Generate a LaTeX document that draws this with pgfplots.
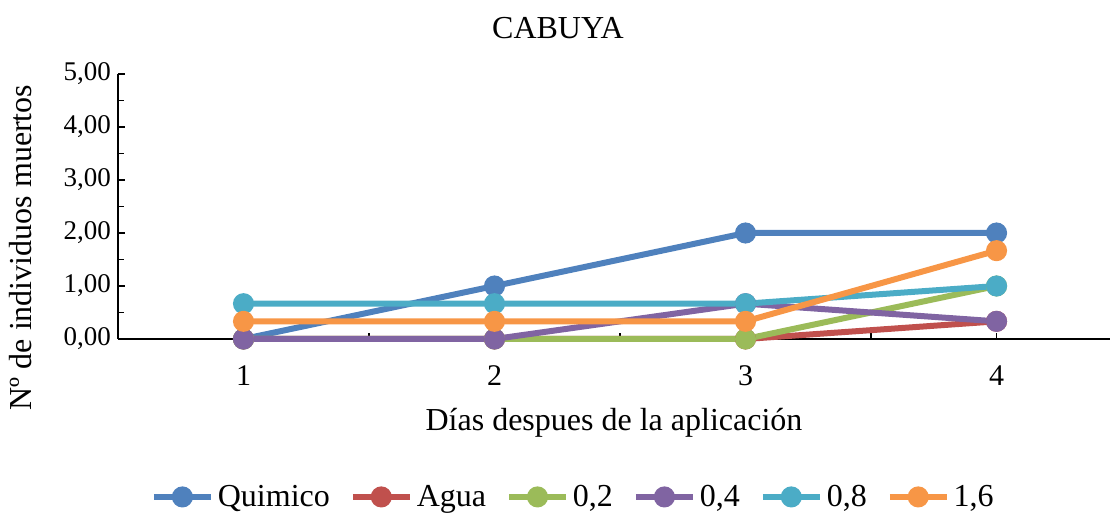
\documentclass[border=0pt]{standalone}
\usepackage{fontspec}
\setmainfont{Liberation Serif}
\usepackage{pgfplots}
\pgfplotsset{compat=1.18}

\definecolor{cQ}{HTML}{4F81BD}
\definecolor{cA}{HTML}{C0504D}
\definecolor{c02}{HTML}{9BBB59}
\definecolor{c04}{HTML}{8064A2}
\definecolor{c08}{HTML}{4BACC6}
\definecolor{c16}{HTML}{F79646}

\begin{document}
\begin{tikzpicture}
\begin{axis}[
  name=ax,
  scale only axis, width=496pt, height=132.5pt,
  xmin=0.5, xmax=4.452, ymin=0, ymax=5,
  axis x line*=bottom, axis y line*=left,
  axis line style={-, line width=0.9pt},
  xtick={1,2,3,4}, xticklabels={1,2,3,4},
  major x tick style={draw=none},
  minor xtick={1.5,2.5,3.5,4},
  ytick={0,1,2,3,4,5}, minor ytick={0.5,1.5,2.5,3.5,4.5},
  tick align=inside,
  major tick length=3.5pt, minor tick length=3pt,
  tick style={black, line width=0.8pt},
  yticklabel={\pgfmathprintnumber[fixed, fixed zerofill, precision=2, use comma, assume math mode=true]{\tick}},
  yticklabel style={font=\fontsize{13.5}{15}\selectfont},
  xticklabel style={font=\fontsize{15}{17}\selectfont, yshift=-10pt},
  xlabel={Días despues de la aplicación},
  ylabel={Nº de individuos muertos},
  label style={font=\fontsize{16}{18}\selectfont},
  xlabel style={yshift=-4pt},
  ylabel style={yshift=9pt, xshift=-20.5pt},
  title={CABUYA},
  title style={at={(0.4435,1)}, anchor=south, yshift=8pt, font=\fontsize{16}{18}\selectfont},
  every axis plot/.append style={line width=3pt, mark=*, mark size=3.75pt, mark options={solid}},
  legend style={at={(0.46,-0.596)}, anchor=center, draw=none, legend columns=-1,
    font=\fontsize{16}{18}\selectfont, /tikz/every even column/.append style={column sep=8pt}},
  legend image code/.code={
    \draw[mark repeat=2, mark phase=2] plot coordinates {(0cm,0cm) (0.5cm,0cm) (1cm,0cm)};},
  clip=false,
]
\addplot[color=cQ] coordinates {(1,0) (2,1) (3,2) (4,2)};
\addlegendentry{Quimico}
\addplot[color=cA] coordinates {(1,0) (2,0) (3,0) (4,0.3333)};
\addlegendentry{Agua}
\addplot[color=c02] coordinates {(1,0) (2,0) (3,0) (4,1)};
\addlegendentry{0,2}
\addplot[color=c04] coordinates {(1,0) (2,0) (3,0.6667) (4,0.3333)};
\addlegendentry{0,4}
\addplot[color=c08] coordinates {(1,0.6667) (2,0.6667) (3,0.6667) (4,1)};
\addlegendentry{0,8}
\addplot[color=c16] coordinates {(1,0.3333) (2,0.3333) (3,0.3333) (4,1.6667)};
\addlegendentry{1,6}
\end{axis}
\path ([xshift=-59pt,yshift=-90pt]ax.south west) rectangle ([xshift=3pt,yshift=37pt]ax.north east);
\end{tikzpicture}
\end{document}
